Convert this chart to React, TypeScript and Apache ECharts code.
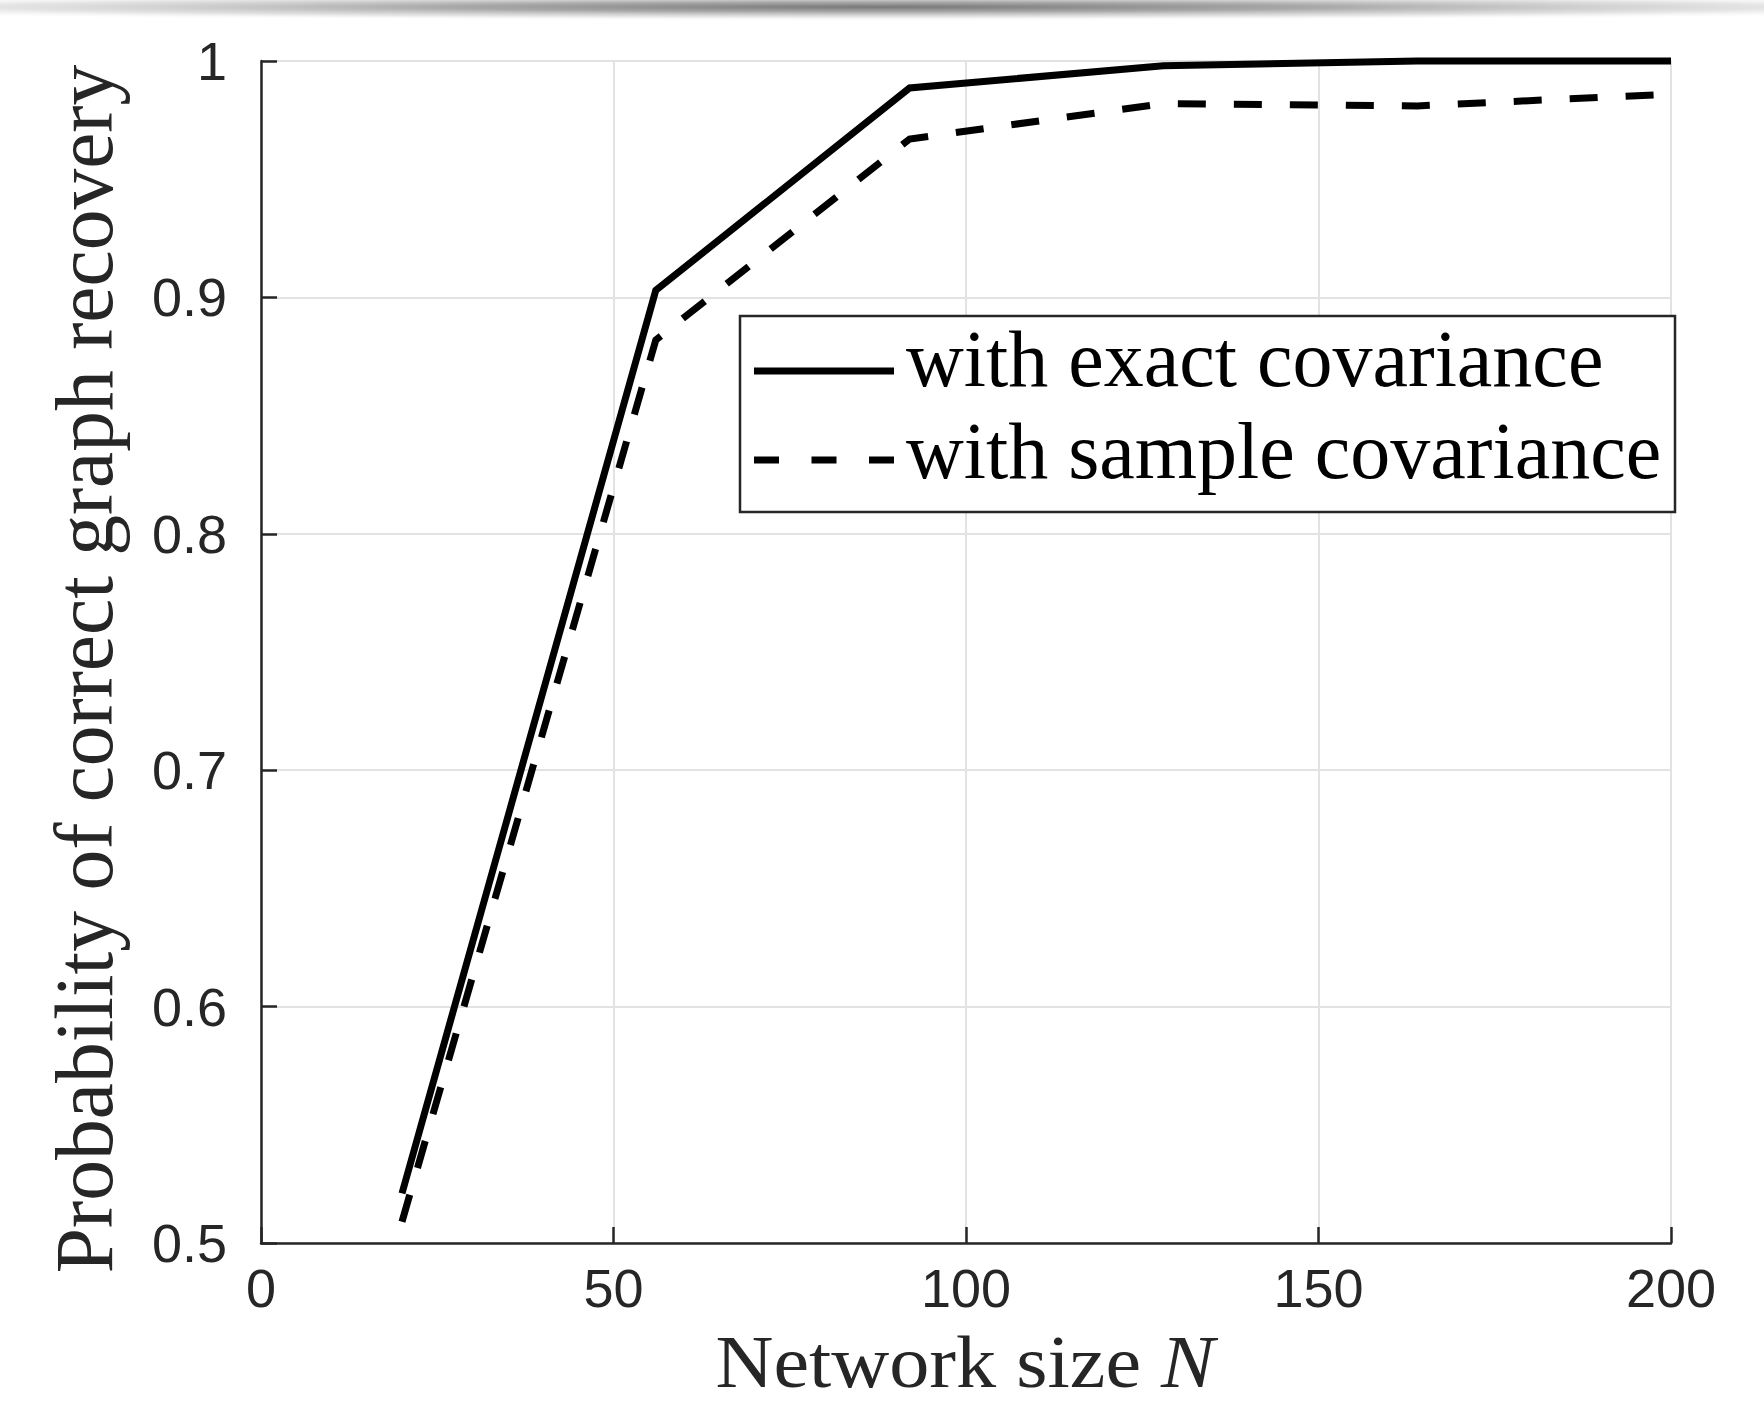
import React, { useEffect, useRef } from "react";
import * as echarts from "echarts";

const networkSizes = [20, 56, 92, 128, 164, 200];
const exactCovariance = [0.521, 0.903, 0.9886, 0.998, 1.0, 1.0];
const sampleCovariance = [0.509, 0.882, 0.967, 0.982, 0.981, 0.986];
const seriesNames = ["with exact covariance", "with sample covariance"];
const xTitle = "Network size ";
const xTitleVar = "N";
const yTitle = "Probability of correct graph recovery";

const AXIS = "#262626";
const GRID = "#e2e2e2";
const SERIF = "'Liberation Serif', 'Times New Roman', serif";
const SANS = "'Liberation Sans', Arial, Helvetica, sans-serif";

export default function App() {
  const ref = useRef<HTMLDivElement>(null);
  useEffect(() => {
    if (!ref.current) return;
    const chart = echarts.init(ref.current, undefined, { renderer: "svg" });
    const pairs = (ys: number[]) => networkSizes.map((x, i) => [x, ys[i]]);
    chart.setOption({
      animation: false,
      backgroundColor: "#ffffff",
      grid: { left: 261, right: 93, top: 61, bottom: 161, containLabel: false },
      xAxis: {
        type: "value",
        min: 0,
        max: 200,
        interval: 50,
        axisLine: { show: true, onZero: false, lineStyle: { color: AXIS, width: 2.5 } },
        axisTick: { show: true, inside: true, length: 16, lineStyle: { color: AXIS, width: 2.5 } },
        axisLabel: { fontFamily: SANS, fontSize: 54, color: AXIS, margin: 18 },
        splitLine: { show: true, lineStyle: { color: GRID, width: 2 } },
      },
      yAxis: {
        type: "value",
        min: 0.5,
        max: 1,
        interval: 0.1,
        axisLine: { show: true, onZero: false, lineStyle: { color: AXIS, width: 2.5 } },
        axisTick: { show: true, inside: true, length: 16, lineStyle: { color: AXIS, width: 2.5 } },
        axisLabel: {
          fontFamily: SANS,
          fontSize: 54,
          color: AXIS,
          margin: 34,
          formatter: (v: number) => String(parseFloat(v.toFixed(1))),
        },
        splitLine: { show: true, lineStyle: { color: GRID, width: 2 } },
      },
      series: [
        {
          name: seriesNames[0],
          type: "line",
          data: pairs(exactCovariance),
          symbol: "none",
          clip: false,
          z: 5,
          lineStyle: { color: "#000", width: 7, type: "solid", join: "miter", cap: "butt" },
        },
        {
          name: seriesNames[1],
          type: "line",
          data: pairs(sampleCovariance),
          symbol: "none",
          clip: false,
          z: 5,
          lineStyle: { color: "#000", width: 7, type: [28, 28], join: "miter", cap: "butt" },
        },
      ],
      graphic: [
        {
          type: "circle",
          x: 882,
          y: 7,
          scaleX: 90,
          scaleY: 1,
          shape: { cx: 0, cy: 0, r: 14 },
          silent: true,
          z: 1,
          style: {
            fill: new echarts.graphic.RadialGradient(0.5, 0.5, 0.5, [
              { offset: 0, color: "rgba(120,120,120,1)" },
              { offset: 0.35, color: "rgba(160,160,160,0.9)" },
              { offset: 0.7, color: "rgba(210,210,210,0.6)" },
              { offset: 1, color: "rgba(255,255,255,0)" },
            ]),
          },
        },
        {
          type: "group",
          z: 100,
          children: [
            {
              type: "rect",
              z: 100,
              shape: { x: 740, y: 316, width: 935, height: 196 },
              style: { fill: "#ffffff", stroke: AXIS, lineWidth: 2.5 },
            },
            {
              type: "line",
              z: 101,
              shape: { x1: 754, y1: 371, x2: 894, y2: 371 },
              style: { stroke: "#000", lineWidth: 7 },
            },
            {
              type: "line",
              z: 101,
              shape: { x1: 754, y1: 460, x2: 894, y2: 460 },
              style: { stroke: "#000", lineWidth: 7, lineDash: [25, 32.5] },
            },
            {
              type: "text",
              z: 101,
              x: 906,
              y: 359,
              style: {
                text: seriesNames[0],
                fontFamily: SERIF,
                fontSize: 80,
                fill: "#000",
                align: "left",
                verticalAlign: "middle",
              },
            },
            {
              type: "text",
              z: 101,
              x: 906,
              y: 451,
              style: {
                text: seriesNames[1],
                fontFamily: SERIF,
                fontSize: 80,
                fill: "#000",
                align: "left",
                verticalAlign: "middle",
              },
            },
          ],
        },
        {
          type: "text",
          x: 965,
          y: 1362,
          scaleX: 1.07,
          style: {
            text: "{a|" + xTitle + "}{b|" + xTitleVar + "}",
            rich: {
              a: { fontFamily: SERIF, fontSize: 75, fill: AXIS },
              b: { fontFamily: SERIF, fontSize: 75, fontStyle: "italic", fill: AXIS },
            },
            fontFamily: SERIF,
            fontSize: 75,
            fill: AXIS,
            align: "center",
            verticalAlign: "middle",
          },
        },
        {
          type: "text",
          x: 84,
          y: 669,
          rotation: Math.PI / 2,
          style: {
            text: yTitle,
            fontFamily: SERIF,
            fontSize: 81.5,
            fill: AXIS,
            align: "center",
            verticalAlign: "middle",
          },
        },
      ],
    });
    return () => chart.dispose();
  }, []);
  return (
    <div
      ref={ref}
      style={{ position: "fixed", left: 0, top: 0, width: 1764, height: 1404, background: "#fff" }}
    />
  );
}
